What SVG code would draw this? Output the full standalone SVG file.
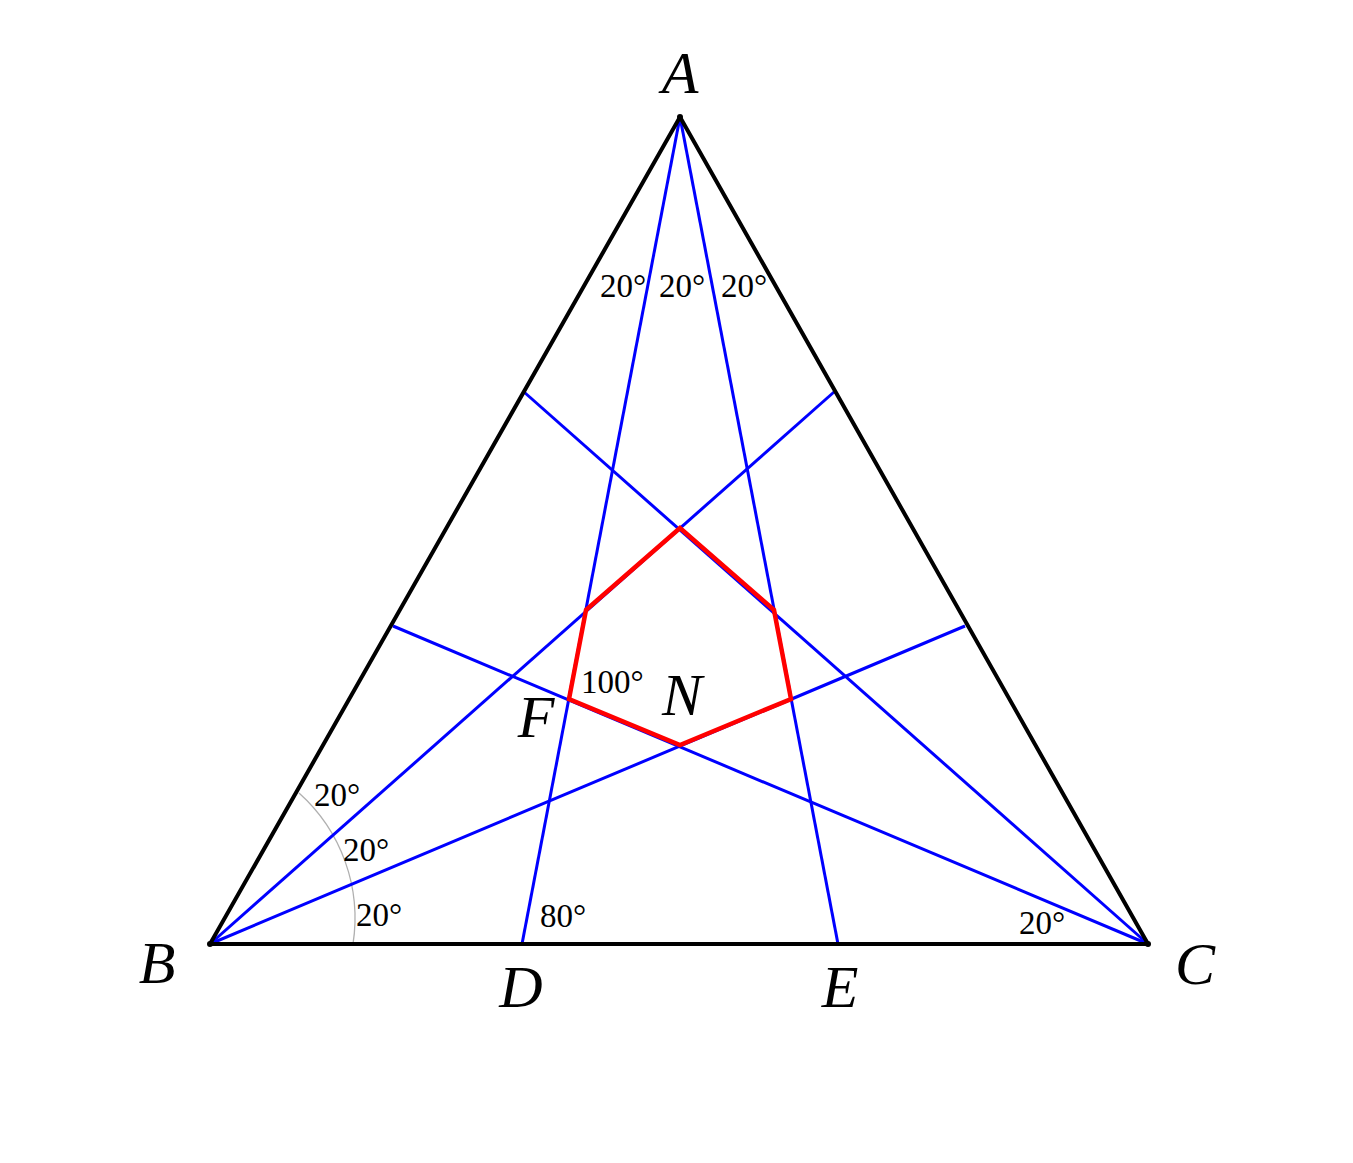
<svg xmlns="http://www.w3.org/2000/svg" width="1353" height="1163" viewBox="0 0 1353 1163">
<style>
.tri{fill:none;stroke:#000;stroke-width:4;stroke-linejoin:round}
.blue{stroke:#0000ff;stroke-width:3;fill:none}
.red{fill:none;stroke:#ff0000;stroke-width:4.5;stroke-linejoin:miter}
.arc{fill:none;stroke:#b0b0b0;stroke-width:1.3}
.pt{font-family:"Liberation Serif",serif;font-style:italic;font-size:60px;fill:#000}
.ang{font-family:"Liberation Serif",serif;font-size:33px;fill:#000}
</style>
<rect width="1353" height="1163" fill="#fff"/>
<g id="arcs">
<path class="arc" d="M299,793 A168,168 0 0 1 353,944"/>
</g>
<g id="connectors">
<line class="blue" x1="680" y1="117" x2="522" y2="944"/>
<line class="blue" x1="680" y1="117" x2="838" y2="944"/>
<line class="blue" x1="210" y1="944" x2="834" y2="392"/>
<line class="blue" x1="210" y1="944" x2="965" y2="626"/>
<line class="blue" x1="1148" y1="944" x2="524" y2="392"/>
<line class="blue" x1="1148" y1="944" x2="393" y2="626"/>
</g>
<g id="triangle">
<polygon class="tri" points="680,117 210,944 1148,944"/>
</g>
<g id="pentagon">
<polygon class="red" points="680,528 586,610 569,699 680,745 791,699 774,610"/>
</g>
<g id="vertices">
<circle cx="680" cy="117" r="3" fill="#000"/>
<circle cx="210" cy="944" r="3" fill="#000"/>
<circle cx="1148" cy="944" r="3" fill="#000"/>
</g>
<g id="labels">
<text class="pt" x="680" y="93" text-anchor="middle">A</text>
<text class="pt" x="157" y="983" text-anchor="middle">B</text>
<text class="pt" x="1195" y="984" text-anchor="middle">C</text>
<text class="pt" x="521" y="1007" text-anchor="middle">D</text>
<text class="pt" x="840" y="1007" text-anchor="middle">E</text>
<text class="pt" x="536" y="737" text-anchor="middle">F</text>
<text class="pt" x="682" y="715" text-anchor="middle">N</text>
</g>
<g id="angles">
<text class="ang" x="600" y="297">20°</text>
<text class="ang" x="659" y="297">20°</text>
<text class="ang" x="721" y="297">20°</text>
<text class="ang" x="314" y="806">20°</text>
<text class="ang" x="343" y="861">20°</text>
<text class="ang" x="356" y="926">20°</text>
<text class="ang" x="1019" y="934">20°</text>
<text class="ang" x="540" y="927">80°</text>
<text class="ang" x="581" y="693">100°</text>
</g>
</svg>
